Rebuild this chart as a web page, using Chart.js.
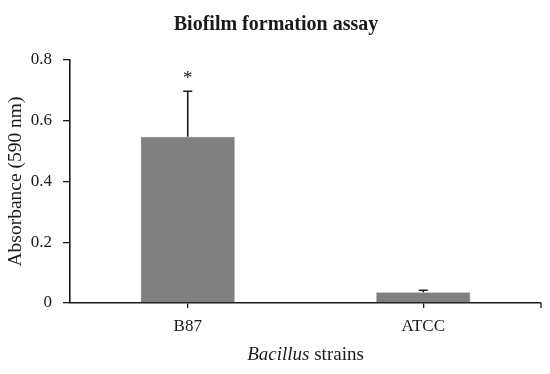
<!DOCTYPE html>
<html lang="en">
<head>
    <meta charset="UTF-8">
    <title>Biofilm formation assay</title>
    <script src="https://cdn.jsdelivr.net/npm/chart.js"></script>
    <style>
        html, body { margin: 0; padding: 0; background: #fff; }
        .chart-container { position: relative; width: 550px; height: 374px; }
    </style>
</head>
<body>
    <div class="chart-container">
        <canvas id="biofilmChart"></canvas>
    </div>
    <script>
        // data
        const strains = ['B87', 'ATCC'];
        const absorbance = [0.547, 0.035];
        const errorSd = [0.15, 0.007];
        const significance = ['*', ''];
        const yTickValues = [0, 0.2, 0.4, 0.6, 0.8];

        const serif = '"Liberation Serif", "Times New Roman", serif';
        const ink = '#1a1a1a';

        // title, error bars, significance marks and the x axis title
        const extrasPlugin = {
            id: 'extras',
            afterDatasetsDraw(chart) {
                const ctx = chart.ctx;
                const yScale = chart.scales.y;
                const bars = chart.getDatasetMeta(0).data;
                ctx.save();
                ctx.strokeStyle = ink;
                ctx.lineWidth = 1.6;
                bars.forEach((bar, i) => {
                    const top = yScale.getPixelForValue(absorbance[i] + errorSd[i]);
                    ctx.beginPath();
                    ctx.moveTo(bar.x, bar.y);
                    ctx.lineTo(bar.x, top);
                    ctx.moveTo(bar.x - 4.5, top);
                    ctx.lineTo(bar.x + 4.5, top);
                    ctx.stroke();
                    if (significance[i]) {
                        ctx.fillStyle = ink;
                        ctx.font = '19px ' + serif;
                        ctx.textAlign = 'center';
                        ctx.textBaseline = 'middle';
                        ctx.fillText(significance[i], bar.x, top - 12);
                    }
                });
                ctx.restore();
            },
            afterDraw(chart) {
                const ctx = chart.ctx;
                const area = chart.chartArea;
                ctx.save();
                // small tick at the right end of the x axis
                ctx.strokeStyle = ink;
                ctx.lineWidth = 1.3;
                ctx.beginPath();
                ctx.moveTo(area.right, area.bottom);
                ctx.lineTo(area.right, area.bottom + 5);
                ctx.stroke();

                // chart title
                ctx.fillStyle = ink;
                ctx.font = 'bold 20px ' + serif;
                ctx.textAlign = 'center';
                ctx.textBaseline = 'alphabetic';
                ctx.fillText('Biofilm formation assay', 276, 30);

                // x axis title with italic genus name
                const italicPart = 'Bacillus';
                const plainPart = ' strains';
                const italicFont = 'italic 19px ' + serif;
                const plainFont = '19px ' + serif;
                ctx.font = italicFont;
                const w1 = ctx.measureText(italicPart).width;
                ctx.font = plainFont;
                const w2 = ctx.measureText(plainPart).width;
                const cx = (area.left + area.right) / 2;
                let x = cx - (w1 + w2) / 2;
                const y = 360;
                ctx.textAlign = 'left';
                ctx.font = italicFont;
                ctx.fillText(italicPart, x, y);
                ctx.font = plainFont;
                ctx.fillText(plainPart, x + w1, y);
                ctx.restore();
            }
        };

        const ctx = document.getElementById('biofilmChart').getContext('2d');
        new Chart(ctx, {
            type: 'bar',
            data: {
                labels: strains,
                datasets: [{
                    label: 'Absorbance',
                    data: absorbance,
                    backgroundColor: '#808080',
                    borderColor: '#9a9a9a',
                    borderWidth: 0.5,
                    barPercentage: 0.4,
                    categoryPercentage: 1.0
                }]
            },
            options: {
                responsive: true,
                maintainAspectRatio: false,
                animation: false,
                layout: {
                    padding: { left: 0, right: 9, top: 60, bottom: 0 }
                },
                plugins: {
                    legend: { display: false },
                    tooltip: { enabled: false },
                    title: { display: false }
                },
                scales: {
                    x: {
                        grid: {
                            display: true,
                            drawOnChartArea: false,
                            drawTicks: true,
                            tickLength: 5,
                            offset: false,
                            color: ink,
                            lineWidth: 1.3
                        },
                        border: { display: true, color: ink, width: 1.6 },
                        ticks: {
                            color: ink,
                            padding: 8,
                            font: { family: serif, size: 17 }
                        },
                        afterFit(scale) { scale.height = 71; }
                    },
                    y: {
                        min: 0,
                        max: 0.8,
                        grid: {
                            display: true,
                            drawOnChartArea: false,
                            drawTicks: true,
                            tickLength: 7,
                            color: ink,
                            lineWidth: 1.3
                        },
                        border: { display: true, color: ink, width: 1.6 },
                        afterBuildTicks(scale) {
                            scale.ticks = yTickValues.map(v => ({ value: v }));
                        },
                        ticks: {
                            color: ink,
                            padding: 11,
                            font: { family: serif, size: 17 },
                            callback: value => String(value)
                        },
                        title: {
                            display: true,
                            text: 'Absorbance (590 nm)',
                            color: ink,
                            font: { family: serif, size: 19.5 },
                            padding: { top: 4, bottom: 0 }
                        },
                        afterFit(scale) { scale.width = 70; }
                    }
                }
            },
            plugins: [extrasPlugin]
        });
    </script>
</body>
</html>
